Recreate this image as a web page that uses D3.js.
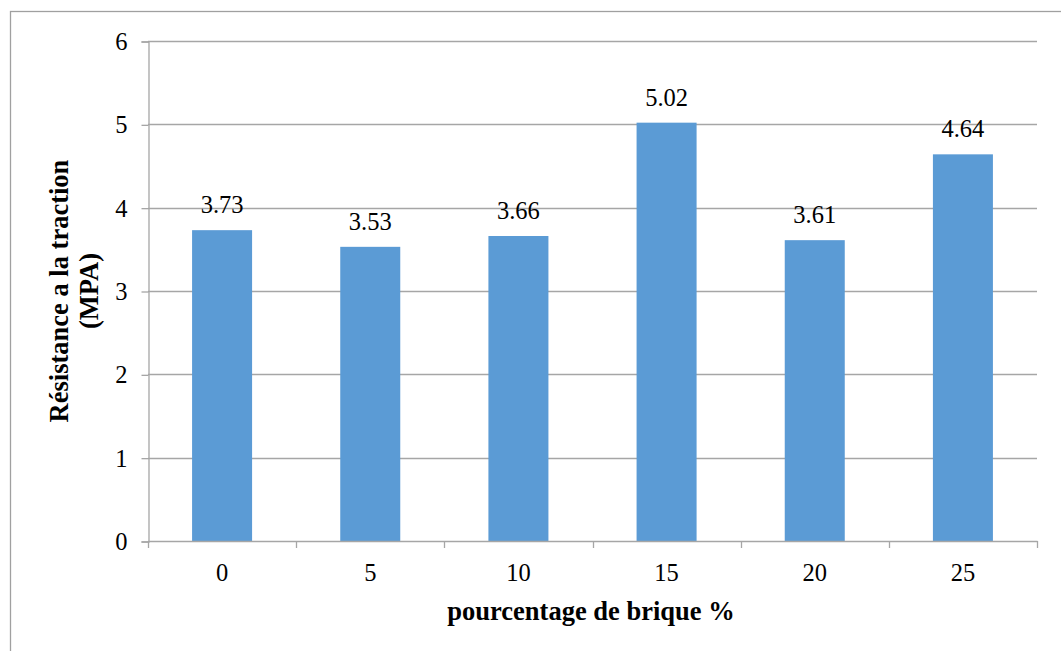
<!DOCTYPE html>
<html>
<head>
<meta charset="utf-8">
<script src="https://cdn.jsdelivr.net/npm/d3@7"></script>
<style>
  html, body { margin: 0; padding: 0; background: #fff; }
  svg { display: block; }
  svg text { font-family: "Liberation Serif", "Times New Roman", serif !important; fill: #000; }
</style>
</head>
<body>
<svg id="chart" width="1061" height="651" font-family="Liberation Serif"></svg>
<script>
const categories = ["0", "5", "10", "15", "20", "25"];
const values = [3.73, 3.53, 3.66, 5.02, 3.61, 4.64];
const yTicks = [0, 1, 2, 3, 4, 5, 6];
const xTitle = "pourcentage de brique %";
const yTitleLines = ["Résistance a la traction", "(MPA)"];

const FONT = "'Liberation Serif', 'Times New Roman', serif";
const NUM_SIZE = "24.5px";
const svg = d3.select("#chart");
const W = 1061, H = 651;
const plot = { left: 148, right: 1037, top: 41, bottom: 541 };

svg.append("rect").attr("x", 0).attr("y", 0).attr("width", W).attr("height", H).attr("fill", "#fff");
// outer chart frame
svg.append("rect")
  .attr("x", 10.5).attr("y", 11.5).attr("width", 1100).attr("height", 700)
  .attr("fill", "none").attr("stroke", "#A0A0A0").attr("stroke-width", 1.3);

const x = d3.scaleBand().domain(categories)
  .range([plot.left, plot.right])
  .paddingInner(0.595).paddingOuter(0.2975);
const y = d3.scaleLinear().domain([0, 6]).range([plot.bottom, plot.top]);

const gridColor = "#A6A6A6";

// gridlines
svg.append("g").selectAll("line").data(yTicks.filter(d => d > 0)).join("line")
  .attr("x1", plot.left).attr("x2", plot.right)
  .attr("y1", d => Math.round(y(d)) + 0.5).attr("y2", d => Math.round(y(d)) + 0.5)
  .attr("stroke", gridColor).attr("stroke-width", 1.3);

// bars
svg.append("g").selectAll("rect").data(values).join("rect")
  .attr("x", (d, i) => x(categories[i]))
  .attr("width", x.bandwidth())
  .attr("y", d => y(d))
  .attr("height", d => y(0) - y(d))
  .attr("fill", "#5B9BD5");

// y axis
const yAxis = d3.axisLeft(y).tickValues(yTicks).tickSize(7).tickPadding(14).tickFormat(d3.format("d"));
const gy = svg.append("g").attr("transform", `translate(${plot.left + 0.5},0.5)`).call(yAxis)
  .attr("font-family", FONT).attr("font-size", 24.5);
gy.select(".domain").attr("stroke", gridColor).attr("stroke-width", 1.3);
gy.selectAll(".tick line").attr("stroke", gridColor).attr("stroke-width", 1.3);
gy.selectAll(".tick text").style("font-family", FONT).style("font-size", NUM_SIZE).attr("fill", "#000");

// x axis baseline and boundary ticks
const step = x.step();
const bounds = d3.range(categories.length + 1).map(i => plot.left + i * step);
const gx = svg.append("g");
gx.append("line").attr("x1", plot.left).attr("x2", plot.right + 0.5)
  .attr("y1", plot.bottom + 0.5).attr("y2", plot.bottom + 0.5)
  .attr("stroke", gridColor).attr("stroke-width", 1.3);
gx.selectAll("line.tk").data(bounds).join("line").attr("class", "tk")
  .attr("x1", d => Math.round(d) + 0.5).attr("x2", d => Math.round(d) + 0.5)
  .attr("y1", plot.bottom).attr("y2", plot.bottom + 7)
  .attr("stroke", gridColor).attr("stroke-width", 1.3);
gx.selectAll("text").data(categories).join("text")
  .attr("x", d => x(d) + x.bandwidth() / 2)
  .attr("y", 581)
  .attr("text-anchor", "middle")
  .style("font-family", FONT).style("font-size", NUM_SIZE)
  .text(d => d);

// value labels
svg.append("g").selectAll("text").data(values).join("text")
  .attr("x", (d, i) => x(categories[i]) + x.bandwidth() / 2)
  .attr("y", d => y(d) - 17)
  .attr("text-anchor", "middle")
  .style("font-family", FONT).style("font-size", NUM_SIZE)
  .text(d => d.toFixed(2));

// x title
svg.append("text")
  .attr("x", 591).attr("y", 620)
  .attr("text-anchor", "middle")
  .style("font-family", FONT).style("font-size", "26.5px").style("font-weight", "bold")
  .text(xTitle);

// y title (two lines, rotated)
const yt = svg.append("text")
  .attr("transform", `translate(68,${(plot.top + plot.bottom) / 2}) rotate(-90)`)
  .attr("text-anchor", "middle")
  .style("font-family", FONT).style("font-size", "26.5px").style("font-weight", "bold");
yTitleLines.forEach((t, i) => {
  yt.append("tspan").attr("x", 0).attr("y", i * 30).text(t);
});
</script>
</body>
</html>
